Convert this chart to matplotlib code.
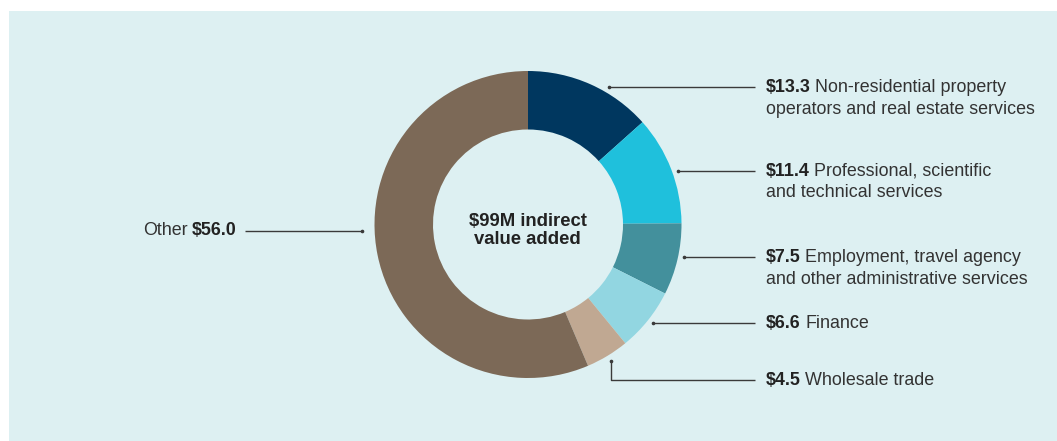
import numpy as np
import matplotlib.pyplot as plt
from matplotlib.patches import Rectangle

W, H = 1057, 441

values = [13.3, 11.4, 7.5, 6.6, 4.5, 56.0]
amounts = ['$13.3', '$11.4', '$7.5', '$6.6', '$4.5', '$56.0']
descriptions = [
    ['Non-residential property', 'operators and real estate services'],
    ['Professional, scientific', 'and technical services'],
    ['Employment, travel agency', 'and other administrative services'],
    ['Finance'],
    ['Wholesale trade'],
    ['Other'],
]
colors = ['#00375f', '#1fc0dc', '#43909c', '#92d6e1', '#c0a892', '#7c6957']
center_label = ['$99M indirect', 'value added']

BG = '#ddf0f2'
TEXT = '#333333'
FONT = 'Liberation Sans'
FS = 12.9

CX, CY = 528, 224.5          # donut centre (pixels from top-left)
R_OUT, R_IN = 153.5, 95
LABEL_X, LINE_END = 766, 755
LINE_Y = [87, 170.5, 257, 323, 379.5]
LINE_GAP = 21


def py(y):
    # pixel row -> data y (axes run bottom-up)
    return H - y


fig = plt.figure(figsize=(W / 100, H / 100), dpi=100)
fig.patch.set_facecolor('white')
ax = fig.add_axes([0, 0, 1, 1])

ax.add_patch(Rectangle((9, 0), W - 9, H - 11, facecolor=BG, edgecolor='none', zorder=0))

ax.pie(values, colors=colors, startangle=90, counterclock=False,
       center=(CX, py(CY)), radius=R_OUT,
       wedgeprops=dict(width=R_OUT - R_IN, edgecolor='none', antialiased=True),
       frame=True)
ax.set_xlim(0, W)
ax.set_ylim(0, H)
ax.set_aspect('equal')
ax.axis('off')

renderer = fig.canvas.get_renderer()


def rich_line(x, y, parts, ha='left'):
    # parts drawn side by side on one baseline: [(text, weight), ...]
    widths = []
    arts = []
    for txt, weight in parts:
        t = ax.text(0, py(y), txt, fontsize=FS, fontweight=weight, family=FONT,
                    color='#222222' if weight == 'bold' else TEXT,
                    va='baseline', ha='left', parse_math=False)
        widths.append(t.get_window_extent(renderer).width)
        arts.append(t)
    gap = 4.5
    total = sum(widths) + gap * (len(parts) - 1)
    cur = x if ha == 'left' else x - total
    for t, w in zip(arts, widths):
        t.set_x(cur)
        cur += w + gap


line_kw = dict(color='#3a3a3a', lw=1, solid_capstyle='butt', zorder=3)
dot_kw = dict(marker='o', ms=1.6, color='#3a3a3a', zorder=3)
R_LINE = R_OUT + 6

total = sum(values)
edges = 90 - 360 * np.cumsum([0] + values) / total
mids = np.radians((edges[:-1] + edges[1:]) / 2)

# right-hand labels
for i in range(5):
    y = LINE_Y[i]
    if i < 4:
        dy = CY - y
        x0 = CX + np.sqrt(R_LINE ** 2 - dy ** 2)
        ax.plot([x0, LINE_END], [py(y), py(y)], **line_kw)
        ax.plot([x0], [py(y)], **dot_kw)
    else:
        # elbow connector from the middle of the wedge
        ex = CX + R_LINE * np.cos(mids[i])
        ey = CY - R_LINE * np.sin(mids[i])
        ax.plot([ex, ex, LINE_END], [py(ey), py(y), py(y)], **line_kw)
        ax.plot([ex], [py(ey)], **dot_kw)
    base = y + 5.5
    desc = descriptions[i]
    rich_line(LABEL_X, base, [(amounts[i], 'bold'), (desc[0], 'normal')])
    for k, extra in enumerate(desc[1:], start=1):
        ax.text(LABEL_X, py(base + k * LINE_GAP), extra, fontsize=FS, family=FONT,
                color=TEXT, va='baseline', ha='left', parse_math=False)

# "Other" on the left
oy = 230.5
ax.plot([245, CX - R_OUT - 13], [py(oy), py(oy)], **line_kw)
ax.plot([CX - R_OUT - 13], [py(oy)], **dot_kw)
rich_line(237, oy + 4.5, [(descriptions[5][0], 'normal'), (amounts[5], 'bold')], ha='right')

# centre label
for k, line in enumerate(center_label):
    ax.text(CX - 0.5, py(226.5 + k * 17), line, fontsize=13.3, fontweight='bold', family=FONT,
            color='#222222', ha='center', va='baseline', parse_math=False)

fig.savefig('out.png', dpi=100, facecolor=fig.get_facecolor())
